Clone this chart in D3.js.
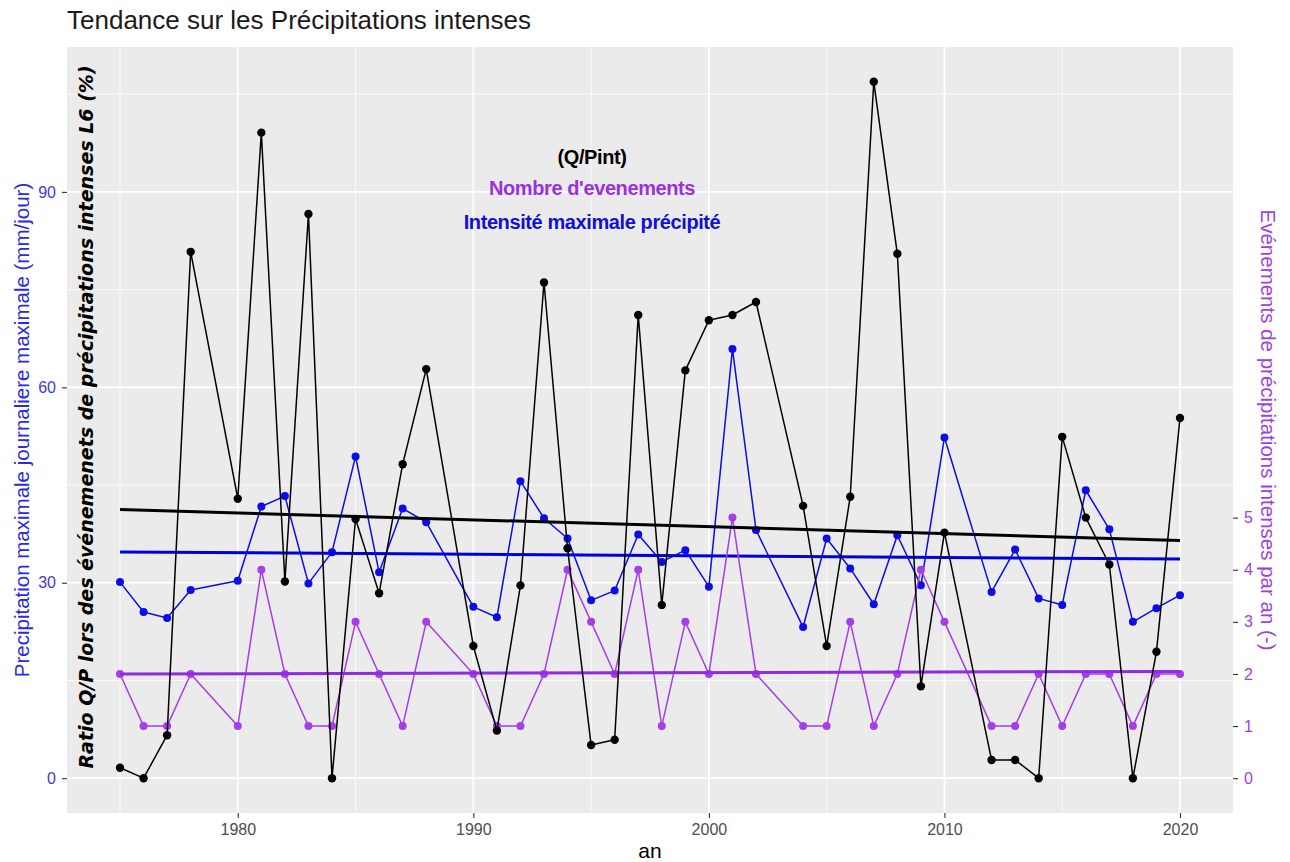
<!DOCTYPE html>
<html>
<head>
<meta charset="utf-8">
<script src="https://cdn.jsdelivr.net/npm/d3@7/dist/d3.min.js"></script>
<style>
  body { margin: 0; background: #fff; }
  svg { display: block; }
</style>
</head>
<body>
<div id="chart"></div>
<script>
// Years with data (1979, 1989, 2003 and 2011 are missing in the source)
const years = [1975, 1976, 1977, 1978, 1980, 1981, 1982, 1983, 1984, 1985, 1986, 1987, 1988,
  1990, 1991, 1992, 1993, 1994, 1995, 1996, 1997, 1998, 1999, 2000, 2001, 2002,
  2004, 2005, 2006, 2007, 2008, 2009, 2010, 2012, 2013, 2014, 2015, 2016, 2017, 2018, 2019, 2020];

// Intensité maximale précipitée (mm/jour)
const intensity = [30.1, 25.5, 24.6, 28.9, 30.3, 41.7, 43.3, 29.9, 34.7, 49.4, 31.6, 41.4, 39.3,
  26.3, 24.7, 45.6, 39.9, 36.8, 27.3, 28.8, 37.4, 33.2, 35.0, 29.4, 65.9, 38.1,
  23.2, 36.8, 32.2, 26.7, 37.3, 29.6, 52.3, 28.6, 35.1, 27.6, 26.6, 44.2, 38.2, 24.0, 26.1, 28.1];

// Ratio Q/Pint (%)
const ratioQP = [1.6, 0, 6.6, 80.8, 42.9, 99.1, 30.2, 86.6, 0, 39.8, 28.4, 48.2, 62.8,
  20.3, 7.3, 29.6, 76.1, 35.3, 5.1, 5.9, 71.1, 26.6, 62.6, 70.3, 71.1, 73.1,
  41.8, 20.3, 43.2, 106.9, 80.5, 14.1, 37.7, 2.8, 2.8, 0, 52.4, 40.0, 32.8, 0, 19.4, 55.3];

// Nombre d'événements par an
const nbEvents = [2, 1, 1, 2, 1, 4, 2, 1, 1, 3, 2, 1, 3,
  2, 1, 1, 2, 4, 3, 2, 4, 1, 3, 2, 5, 2,
  1, 1, 3, 1, 2, 4, 3, 1, 1, 2, 1, 2, 2, 1, 2, 2];

const xTicks = [1980, 1990, 2000, 2010, 2020];
const xMinor = [1975, 1985, 1995, 2005, 2015];
const leftTicks = [0, 30, 60, 90];
const leftMinor = [15, 45, 75, 105];
const rightTicks = [0, 1, 2, 3, 4, 5];
const secFactor = 8; // événements -> échelle de gauche

const width = 1290, height = 862;
const panel = { left: 67, right: 1233, top: 47, bottom: 813 };

const colBlue = '#0c0ce8';
const colPurple = '#a53ee6';
const colPurpleTrend = '#8f2be2';
const colBlack = '#000000';

const svg = d3.select('#chart').append('svg')
  .attr('width', width)
  .attr('height', height)
  .style('font-family', '"Liberation Sans", Arial, sans-serif');

// Scales with ggplot-like 5% expansion
const xr = d3.extent(years);
const xpad = (xr[1] - xr[0]) * 0.05;
const x = d3.scaleLinear().domain([xr[0] - xpad, xr[1] + xpad]).range([panel.left, panel.right]);

const allY = intensity.concat(ratioQP, nbEvents.map(d => d * secFactor));
const yr = d3.extent(allY);
const ypad = (yr[1] - yr[0]) * 0.05;
const y = d3.scaleLinear().domain([yr[0] - ypad, yr[1] + ypad]).range([panel.bottom, panel.top]);
const y2 = d3.scaleLinear().domain(y.domain().map(d => d / secFactor)).range(y.range());

// Panel background and grid
svg.append('rect')
  .attr('x', panel.left).attr('y', panel.top)
  .attr('width', panel.right - panel.left).attr('height', panel.bottom - panel.top)
  .attr('fill', '#ebebeb');

const grid = svg.append('g');
grid.selectAll('.xminor').data(xMinor).join('line')
  .attr('x1', d => x(d)).attr('x2', d => x(d))
  .attr('y1', panel.top).attr('y2', panel.bottom)
  .attr('stroke', '#fff').attr('stroke-width', 0.8);
grid.selectAll('.yminor').data(leftMinor).join('line')
  .attr('y1', d => y(d)).attr('y2', d => y(d))
  .attr('x1', panel.left).attr('x2', panel.right)
  .attr('stroke', '#fff').attr('stroke-width', 0.8);
grid.selectAll('.xmajor').data(xTicks).join('line')
  .attr('x1', d => x(d)).attr('x2', d => x(d))
  .attr('y1', panel.top).attr('y2', panel.bottom)
  .attr('stroke', '#fff').attr('stroke-width', 1.7);
grid.selectAll('.ymajor').data(leftTicks).join('line')
  .attr('y1', d => y(d)).attr('y2', d => y(d))
  .attr('x1', panel.left).attr('x2', panel.right)
  .attr('stroke', '#fff').attr('stroke-width', 1.7);

// Linear trend (least squares), like geom_smooth(method = "lm")
function trend(xs, ys) {
  const mx = d3.mean(xs), my = d3.mean(ys);
  let num = 0, den = 0;
  xs.forEach((v, i) => { num += (v - mx) * (ys[i] - my); den += (v - mx) * (v - mx); });
  const b = num / den, a = my - b * mx;
  return [xr[0], xr[1]].map(v => ({ x: v, y: a + b * v }));
}

const line = d3.line().x(d => x(d.x)).y(d => y(d.y));
const plot = svg.append('g');

function drawSeries(values, color, lw, r) {
  const pts = years.map((yy, i) => ({ x: yy, y: values[i] }));
  plot.append('path').datum(pts)
    .attr('d', line).attr('fill', 'none')
    .attr('stroke', color).attr('stroke-width', lw).attr('stroke-linejoin', 'round');
  plot.append('g').selectAll('circle').data(pts).join('circle')
    .attr('cx', d => x(d.x)).attr('cy', d => y(d.y)).attr('r', r)
    .attr('fill', color);
}

function drawTrend(values, color) {
  plot.append('path').datum(trend(years, values))
    .attr('d', line).attr('fill', 'none')
    .attr('stroke', color).attr('stroke-width', 3);
}

drawSeries(intensity, colBlue, 1.5, 4);
drawTrend(intensity, '#0000dd');
drawSeries(nbEvents.map(d => d * secFactor), colPurple, 1.5, 4);
drawTrend(nbEvents.map(d => d * secFactor), colPurpleTrend);
drawSeries(ratioQP, colBlack, 1.5, 4.2);
drawTrend(ratioQP, colBlack);

// Axes
const xAxis = svg.append('g')
  .attr('transform', `translate(0,${panel.bottom})`)
  .call(d3.axisBottom(x).tickValues(xTicks).tickFormat(d3.format('d')).tickSize(5).tickPadding(6));
xAxis.select('.domain').remove();
xAxis.selectAll('line').attr('stroke', '#333').attr('stroke-width', 1.1);
xAxis.selectAll('text').attr('fill', '#4d4d4d').style('font-size', '16px');

const yAxis = svg.append('g')
  .attr('transform', `translate(${panel.left},0)`)
  .call(d3.axisLeft(y).tickValues(leftTicks).tickSize(5).tickPadding(6));
yAxis.select('.domain').remove();
yAxis.selectAll('line').attr('stroke', '#333').attr('stroke-width', 1.1);
yAxis.selectAll('text').attr('fill', '#3c3cd6').style('font-size', '16px');

const y2Axis = svg.append('g')
  .attr('transform', `translate(${panel.right},0)`)
  .call(d3.axisRight(y2).tickValues(rightTicks).tickSize(5).tickPadding(6));
y2Axis.select('.domain').remove();
y2Axis.selectAll('line').attr('stroke', '#333').attr('stroke-width', 1.1);
y2Axis.selectAll('text').attr('fill', '#a040e0').style('font-size', '16px');

// Titles
svg.append('text')
  .attr('x', panel.left).attr('y', 29)
  .attr('fill', '#1a1a1a').style('font-size', '26px')
  .text('Tendance sur les Précipitations intenses');

svg.append('text')
  .attr('x', (panel.left + panel.right) / 2).attr('y', 858)
  .attr('text-anchor', 'middle').style('font-size', '21px')
  .text('an');

const midY = (panel.top + panel.bottom) / 2;
svg.append('text')
  .attr('transform', `translate(29,${midY}) rotate(-90)`)
  .attr('text-anchor', 'middle').attr('fill', '#2a2ae0').style('font-size', '20.5px')
  .text('Precipitation maximale journaliere maximale (mm/jour)');

svg.append('text')
  .attr('transform', `translate(1261,${midY}) rotate(90)`)
  .attr('text-anchor', 'middle').attr('fill', '#a040e0').style('font-size', '20.5px')
  .text('Evénements de précipitations intenses par an (-)');

svg.append('text')
  .attr('transform', `translate(93,417) rotate(-90)`)
  .attr('text-anchor', 'middle')
  .style('font-family', '"DejaVu Sans", sans-serif')
  .style('font-size', '19px').style('font-weight', 'bold').style('font-style', 'italic')
  .text('Ratio Q/P lors des événemenets de précipitations intenses L6 (%)');

// In-panel legend
const legend = [
  { label: '(Q/Pint)', color: '#000', y: 164 },
  { label: "Nombre d'evenements", color: '#9b30e0', y: 195 },
  { label: 'Intensité maximale précipité', color: '#1010d8', y: 229 }
];
svg.append('g').selectAll('text').data(legend).join('text')
  .attr('x', 592).attr('y', d => d.y)
  .attr('text-anchor', 'middle')
  .attr('fill', d => d.color)
  .style('font-size', '20px').style('font-weight', 'bold').style('letter-spacing', '-0.4px')
  .text(d => d.label);
</script>
</body>
</html>
